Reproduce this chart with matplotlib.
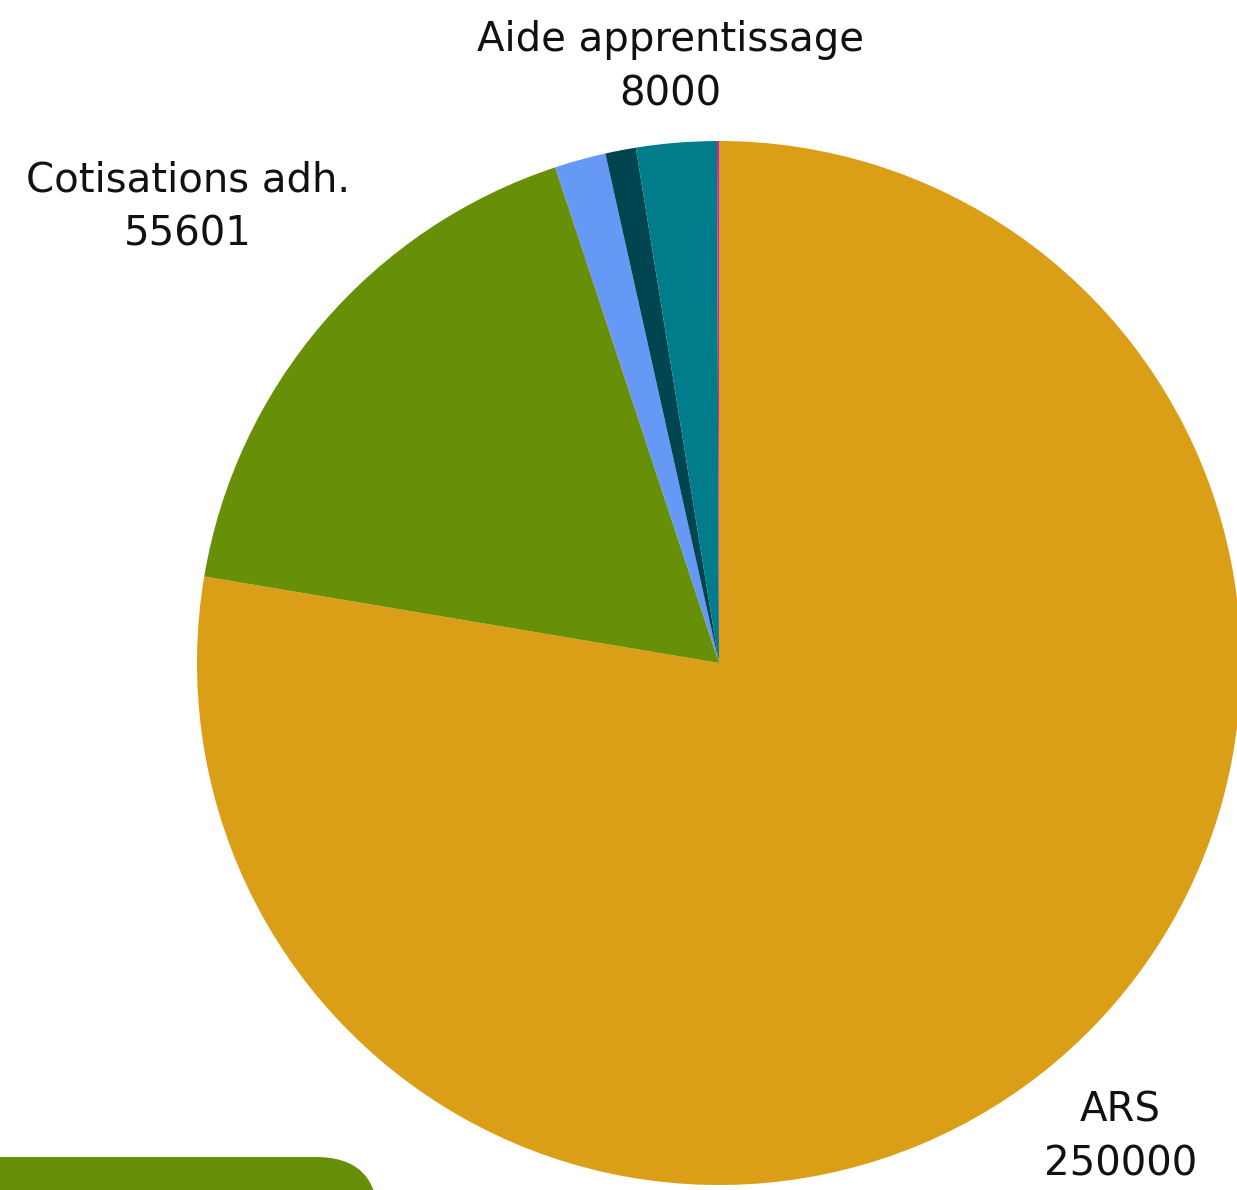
import numpy as np
import matplotlib.pyplot as plt
from matplotlib.patches import FancyBboxPatch

# slices, clockwise from the top
labels = ['ARS', 'Cotisations adh.', '', '', 'Aide apprentissage', '']
values = [250000, 55601, 5100, 3050, 8000, 200]
colors = ['#DA9E17', '#688F08', '#6699F5', '#00454F', '#007C8A', '#D01FB0']
show_label = [True, True, False, False, True, False]
label_dist = [1.19, 1.34, 1.2, 1.2, 1.145, 1.2]

W, H = 1237, 1190
fig = plt.figure(figsize=(W / 100, H / 100), dpi=100)
ax = fig.add_axes([0, 0, 1, 1])

cx, cy, r = 719, H - 663, 522
wedges, _ = ax.pie(values, colors=colors, startangle=90, counterclock=False,
                   center=(cx, cy), radius=r, frame=True,
                   wedgeprops=dict(linewidth=0))
ax.set_xlim(0, W)
ax.set_ylim(0, H)
ax.set_aspect('equal')
ax.axis('off')

for w, lab, v, show, d in zip(wedges, labels, values, show_label, label_dist):
    if not show:
        continue
    ang = np.deg2rad((w.theta1 + w.theta2) / 2)
    x = cx + d * r * np.cos(ang)
    y = cy + d * r * np.sin(ang)
    ax.text(x, y, f'{lab}\n{v}', ha='center', va='center', fontsize=29,
            family='DejaVu Sans', color='#111111', linespacing=1.45)

# green rounded block at the bottom left
box = FancyBboxPatch((-100, -120), 478, 153,
                     boxstyle='round,pad=0,rounding_size=62',
                     facecolor='#688F08', edgecolor='none')
ax.add_patch(box)

fig.savefig('out.png', dpi=100)
